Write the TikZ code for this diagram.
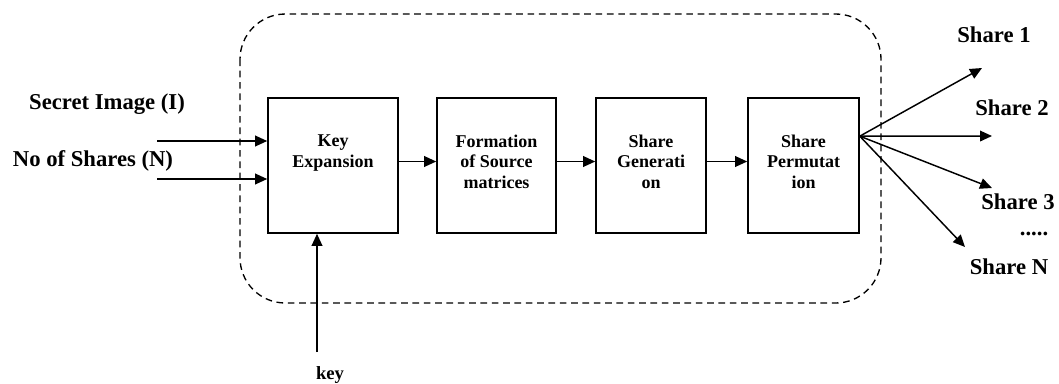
\documentclass[tikz,border=0pt]{standalone}
\usepackage{fontspec}
\setmainfont{Liberation Serif}
\usetikzlibrary{arrows.meta,positioning}
\tikzset{
  stagebox/.style={draw, line width=1.2pt, minimum width=#1, minimum height=101.25pt, inner sep=0pt},
  stagetext/.style={font=\fontsize{13.5}{15.5}\selectfont\bfseries, align=center, inner sep=0pt},
  iolabel/.style={font=\fontsize{17}{20}\selectfont\bfseries, inner sep=0pt},
  flow/.style={line width=1.1pt, -{Triangle[length=9pt,width=8pt]}},
  frame/.style={line width=1pt, dash pattern=on 5pt off 3.5pt, rounded corners=34pt}
}
\begin{document}
\begin{tikzpicture}[x=0.75pt,y=-0.75pt]
  \useasboundingbox (0,0) rectangle (1059,383);
  % dashed enclosure
  \draw[frame] (240,14) rectangle (881,303);
  % stages
  \node[stagebox=97.5pt] (keyexp) at (333,165.5) {};
  \node[stagebox=89.25pt] (formation) at (496.5,165.5) {};
  \node[stagebox=82.5pt] (sharegen) at (651,165.5) {};
  \node[stagebox=83.25pt] (permute) at (803.5,165.5) {};
  \node[stagetext, below=28pt of keyexp.north] {Key\\Expansion};
  \node[stagetext, below=28pt of formation.north] {Formation\\of Source\\matrices};
  \node[stagetext, below=28pt of sharegen.north] {Share\\Generati\\on};
  \node[stagetext, below=28pt of permute.north] {Share\\Permutat\\ion};
  \draw[flow] ([yshift=3pt]keyexp.east) -- ([yshift=3pt]formation.west);
  \draw[flow] ([yshift=3pt]formation.east) -- ([yshift=3pt]sharegen.west);
  \draw[flow] ([yshift=3pt]sharegen.east) -- ([yshift=3pt]permute.west);
  % inputs
  \node[iolabel] (imglabel) at (107,104) {Secret Image (I)};
  \node[iolabel] (numlabel) at (93,161) {No of Shares (N)};
  \coordinate (imgin) at (157,141);
  \coordinate (numin) at (157,179);
  \draw[flow] (imgin) -- (imgin -| keyexp.west);
  \draw[flow] (numin) -- (numin -| keyexp.west);
  \coordinate (keyin) at (317,352);
  \draw[flow] (keyin) -- (keyin |- keyexp.south);
  \node[iolabel, font=\fontsize{14}{16}\selectfont\bfseries] (keylabel) at (330,375) {key};
  % outputs
  \coordinate (fan) at ([yshift=22pt]permute.east);
  \coordinate (out1) at (982,68);
  \coordinate (out2) at (992,136);
  \coordinate (out3) at (992,188);
  \coordinate (outn) at (965,247);
  \foreach \c in {out1,out2,out3,outn}
    \draw[flow] (fan) -- (\c);
  \node[iolabel] (share1) at (994,35) {Share 1};
  \node[iolabel] (share2) at (1012,108) {Share 2};
  \node[iolabel] (share3) at (1018,202) {Share 3};
  \node[iolabel] (dots) at (1034,234) {.....};
  \node[iolabel] (sharen) at (1009,267) {Share N};
\end{tikzpicture}
\end{document}
